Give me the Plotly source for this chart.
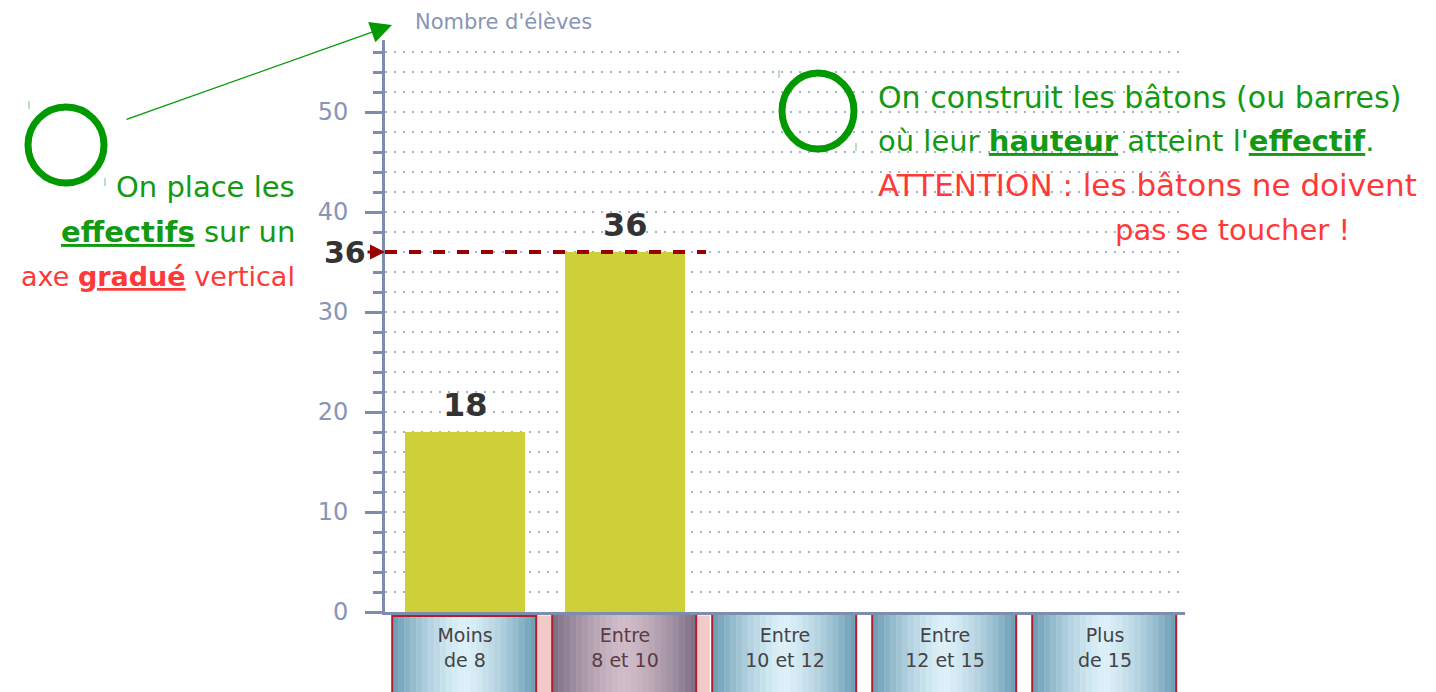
import plotly.graph_objects as go

# ---------------- data ----------------
categories = ["Moins de 8", "Entre 8 et 10", "Entre 10 et 12", "Entre 12 et 15", "Plus de 15"]
tick_labels = ["Moins<br>de 8", "Entre<br>8 et 10", "Entre<br>10 et 12",
               "Entre<br>12 et 15", "Plus<br>de 15"]
effectifs = [18, 36, None, None, None]
highlight_value = 36
y_title = "Nombre d'élèves"

# ---------------- layout geometry (page pixels) ----------------
OFF = 8                      # default body margin of the html page
PAGE_W, PAGE_H = 1436, 692
PL, PR, PT, PB = 385, 1185, 40, 612   # plot area in page pixels
W, H = PAGE_W - OFF, PAGE_H - OFF
ML, MT = PL - OFF, PT - OFF
MR, MB = W - (PR - OFF), H - (PB - OFF)

def px_x(p):
    return (p - PL) / (PR - PL)
def px_y(p):
    return (PB - p) / (PB - PT)

AXIS_COL = "#7d8db0"
TICK_TXT = "#8796b4"
GREEN = "#129a12"
RED = "#ff3838"
BAR_COL = "#cfcf3a"

fig = go.Figure()
fig.add_trace(go.Bar(
    x=categories, y=effectifs, marker=dict(color=BAR_COL, line=dict(width=0)),
    width=0.75, hoverinfo="skip", showlegend=False,
))

shapes = []
annotations = []

# value labels above bars
for c, v in zip(categories, effectifs):
    if v is not None:
        annotations.append(dict(x=c, y=v, xref="x", yref="y", text=f"<b>{v}</b>",
                                showarrow=False, yanchor="bottom", yshift=6,
                                font=dict(family="DejaVu Sans", size=32, color="#333333")))

# pink band behind second category box
idx_hl = effectifs.index(highlight_value)
shapes.append(dict(type="rect", xref="x domain", yref="paper",
                   x0=idx_hl * 0.2 - 0.011, x1=idx_hl * 0.2 + 0.206, y0=-0.006, y1=-0.2,
                   fillcolor="#f2caca", line=dict(width=0), layer="below"))

# category boxes with horizontal gradient
def lerp(a, b, t):
    return tuple(int(round(a[j] + (b[j] - a[j]) * t)) for j in range(3))

n = len(categories)
for i in range(n):
    if i == idx_hl:
        center, edge = (208, 188, 200), (122, 108, 132)
    else:
        center, edge = (220, 240, 249), (104, 155, 178)
    x0 = i / n + 0.009
    x1 = i / n + 0.189
    ytop = px_y(616 if i == 0 else 614)
    ns = 24
    for k in range(ns):
        t = (k + 0.5) / ns
        d = abs(t - 0.5) * 2
        col = lerp(center, edge, d ** 1.4)
        shapes.append(dict(type="rect", xref="x domain", yref="paper",
                           x0=x0 + (x1 - x0) * k / ns, x1=x0 + (x1 - x0) * (k + 1) / ns + 0.0005,
                           y0=ytop, y1=-0.2, fillcolor="rgb(%d,%d,%d)" % col,
                           line=dict(width=0), layer="below"))
    shapes.append(dict(type="rect", xref="x domain", yref="paper", x0=x0, x1=x1,
                       y0=ytop, y1=-0.2, fillcolor="rgba(0,0,0,0)",
                       line=dict(color="#b0202c", width=2), layer="below"))

# dashed red line at highlighted value
shapes.append(dict(type="line", xref="x domain", yref="y", x0=0.0, x1=px_x(706),
                   y0=highlight_value, y1=highlight_value,
                   line=dict(color="#9a0000", width=4, dash="dash"), layer="above"))
annotations.append(dict(x=0, y=highlight_value, xref="x domain", yref="y",
                        text=f"<b>{highlight_value}</b>", showarrow=True,
                        ax=-40, ay=0, arrowhead=2, arrowsize=1, arrowwidth=3,
                        arrowcolor="#9a0000",
                        font=dict(family="DejaVu Sans", size=30, color="#333333")))

# axis title
annotations.append(dict(x=px_x(413), y=px_y(22), xref="paper", yref="paper",
                        text=y_title, showarrow=False, xanchor="left", yanchor="middle",
                        font=dict(family="DejaVu Sans", size=21, color=TICK_TXT)))

# green circles
def circle(cx, cy, rx, ry):
    shapes.append(dict(type="circle", xref="paper", yref="paper",
                       x0=px_x(cx - rx), x1=px_x(cx + rx), y0=px_y(cy + ry), y1=px_y(cy - ry),
                       line=dict(color="#009900", width=7), fillcolor="rgba(0,0,0,0)"))
circle(66, 145, 38, 38)
circle(818, 111, 36, 38)
for (xx, ya, yb) in [(29, 101, 109), (105, 178, 186), (779, 70, 78), (856, 143, 151)]:
    shapes.append(dict(type="line", xref="paper", yref="paper", x0=px_x(xx), x1=px_x(xx),
                       y0=px_y(ya), y1=px_y(yb), line=dict(color="#7fbf7f", width=1)))

# green arrow to the axis title
annotations.append(dict(x=px_x(392), y=px_y(25), xref="paper", yref="paper", text="",
                        showarrow=True, ax=125 - 392, ay=120 - 25, arrowhead=2,
                        arrowsize=3.3, arrowwidth=1.3, arrowcolor="#009900"))

FONT_TXT = "DejaVu Sans"
TS = 29
def txt(x, y, s, color, anchor, size=TS):
    annotations.append(dict(x=px_x(x), y=px_y(y), xref="paper", yref="paper", text=s,
                            showarrow=False, xanchor=anchor, yanchor="middle",
                            font=dict(family=FONT_TXT, size=size, color=color)))

txt(297, 187, "On place les", GREEN, "right")
txt(297, 232, "<u><b>effectifs</b></u> sur un", GREEN, "right")
txt(297, 276, "axe <u><b>gradué</b></u> vertical", RED, "right", 27)

txt(876, 97, "On construit les bâtons (ou barres)", GREEN, "left", 30)
txt(876, 141, "où leur <u><b>hauteur</b></u> atteint l'<u><b>effectif</b></u>.", GREEN, "left")
txt(876, 185, "ATTENTION : les bâtons ne doivent", RED, "left", 31)
txt(1113, 230, "pas se toucher !", RED, "left")

fig.update_layout(
    width=W, height=H,
    margin=dict(l=ML, r=MR, t=MT, b=MB, pad=0),
    paper_bgcolor="white", plot_bgcolor="white",
    shapes=shapes, annotations=annotations,
    bargap=0.25,
    xaxis=dict(
        type="category", categoryorder="array", categoryarray=categories,
        tickmode="array", tickvals=categories,
        ticktext=[("<span style='color:#5b3b44'>%s</span>" % t) if i == idx_hl else t
                  for i, t in enumerate(tick_labels)],
        tickfont=dict(family="DejaVu Sans", size=19, color="#444444"),
        showline=True, linecolor=AXIS_COL, linewidth=3, ticks="",
        showgrid=False, zeroline=False, fixedrange=True, ticklabelstandoff=4,
    ),
    yaxis=dict(
        range=[0, 57.2], tickmode="linear", tick0=0, dtick=10,
        ticks="outside", ticklen=17, tickwidth=3, tickcolor=AXIS_COL,
        showline=True, linecolor=AXIS_COL, linewidth=3,
        tickfont=dict(family="DejaVu Sans", size=24, color=TICK_TXT),
        ticklabelstandoff=12,
        showgrid=True, gridcolor="#a6b2cc", gridwidth=2, griddash="2px,7px",
        zeroline=False, fixedrange=True,
        minor=dict(dtick=2, tick0=0, ticks="outside", ticklen=9, tickwidth=3,
                   tickcolor=AXIS_COL, showgrid=True, gridcolor="#a6b2cc",
                   gridwidth=2, griddash="2px,7px"),
    ),
)

fig.write_html("out.html")
